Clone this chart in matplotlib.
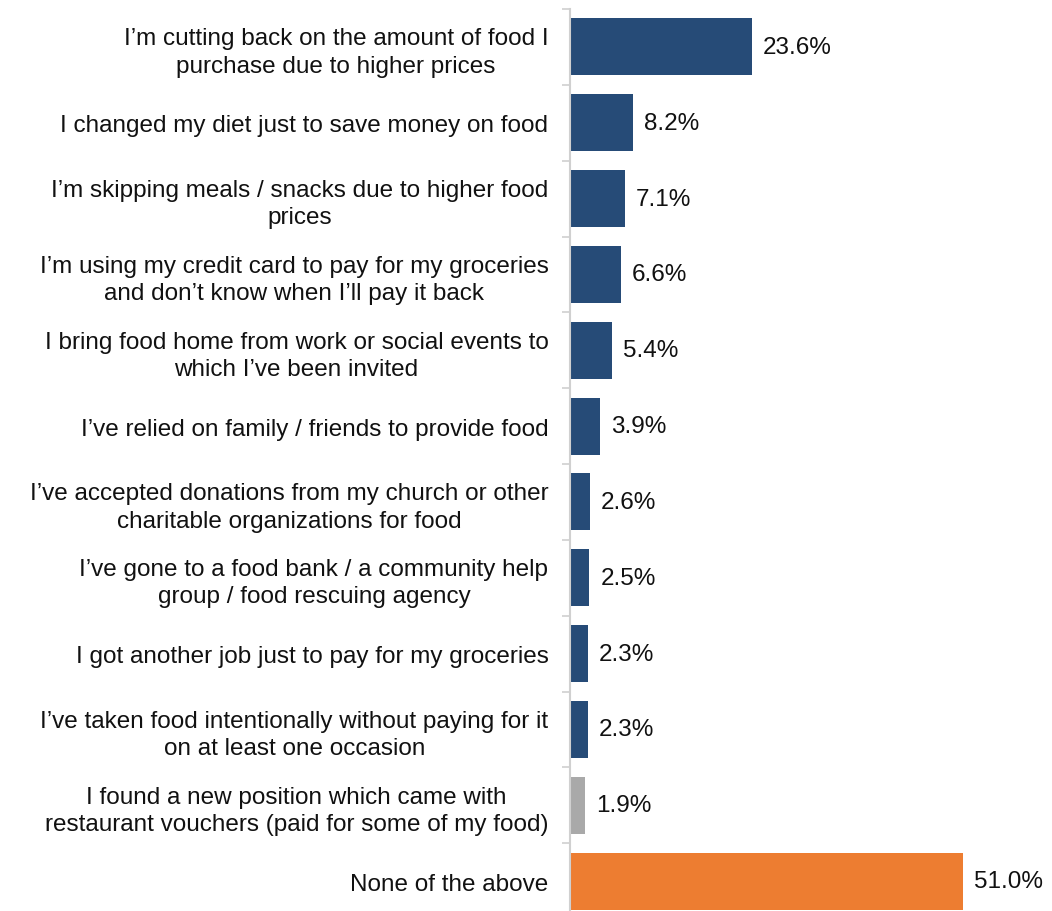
import matplotlib
matplotlib.use("Agg")
import matplotlib.pyplot as plt

plt.rcParams['font.family'] = ['Liberation Sans', 'DejaVu Sans']

categories = [
    "I\u2019m cutting back on the amount of food I\npurchase due to higher prices",
    "I changed my diet just to save money on food",
    "I\u2019m skipping meals / snacks due to higher food\nprices",
    "I\u2019m using my credit card to pay for my groceries\nand don\u2019t know when I\u2019ll pay it back",
    "I bring food home from work or social events to\nwhich I\u2019ve been invited",
    "I\u2019ve relied on family / friends to provide food",
    "I\u2019ve accepted donations from my church or other\ncharitable organizations for food",
    "I\u2019ve gone to a food bank / a community help\ngroup / food rescuing agency",
    "I got another job just to pay for my groceries",
    "I\u2019ve taken food intentionally without paying for it\non at least one occasion",
    "I found a new position which came with\nrestaurant vouchers (paid for some of my food)",
    "None of the above",
]
values = [23.6, 8.2, 7.1, 6.6, 5.4, 3.9, 2.6, 2.5, 2.3, 2.3, 1.9, 51.0]
colors = ["#264B77"] * 10 + ["#A9A9A9", "#ED7D31"]

FS = 17.5
TXT = "#111111"

fig = plt.figure(figsize=(10.52, 9.12), dpi=100)
ax = fig.add_axes([570 / 1052, -8.0 / 912, 470 / 1052, 910.0 / 912])

n = len(categories)
ypos = list(range(n))
ax.barh(ypos, values, height=0.75, color=colors, zorder=2)
ax.set_ylim(n - 0.5, -0.5)
ax.set_xlim(0, 470 / 7.7)

for y, v in zip(ypos, values):
    ax.text(v + 1.45, y, f"{v:.1f}%", va="center", ha="left",
            fontsize=FS, color=TXT)

ax.set_yticks(ypos)
ax.set_yticklabels(categories, fontsize=FS, color=TXT,
                   multialignment="center", linespacing=1.3)
ax.tick_params(axis="y", which="major", length=0, pad=15.5)
ax.set_yticks([i + 0.5 for i in range(-1, n)], minor=True)
ax.tick_params(axis="y", which="minor", length=6, width=1.2, color="#d0d0d0")
ax.set_xticks([])

for s in ["top", "right", "bottom"]:
    ax.spines[s].set_visible(False)
ax.spines["left"].set_color("#d0d0d0")
ax.spines["left"].set_linewidth(1.5)

fig.savefig("out.png", dpi=100)
